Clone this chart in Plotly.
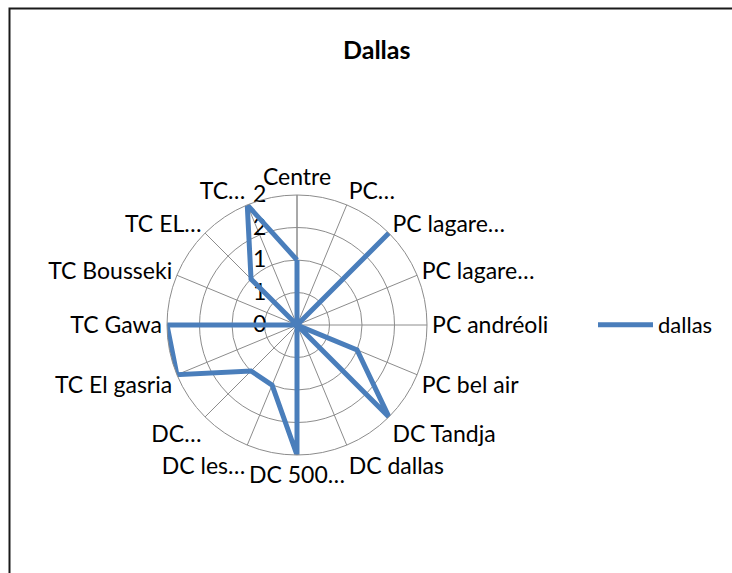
import plotly.graph_objects as go

# Site categories around the radar, clockwise from the top
categories = [
    "Centre", "PC…", "PC lagare…", "PC lagare…", "PC andréoli", "PC bel air",
    "DC Tandja", "DC dallas", "DC 500…", "DC les…", "DC…", "TC El gasria",
    "TC Gawa", "TC Bousseki", "TC EL…", "TC…",
]
dallas = [1, 0, 2, 0, 0, 1, 2, 0, 2, 1, 1, 2, 2, 0, 1, 2]

radial_ticks = [0, 0.5, 1, 1.5, 2]
radial_labels = ["0", "1", "1", "2", "2"]

W, H = 732, 573
n = len(categories)
theta = [i * 360 / n for i in range(n)]

# closed polygon for the series
r_closed = dallas + dallas[:1]
t_closed = theta + theta[:1]

FONT = "Lato"
GRID = "#8c8c8c"
BLUE = "#4a7ebb"
FS = 23

cx, cy, rad = 297, 325, 130

fig = go.Figure()
fig.add_trace(go.Scatterpolar(
    r=r_closed, theta=t_closed, mode="lines", name="dallas",
    line=dict(color=BLUE, width=5),
))

fig.update_layout(
    width=W, height=H,
    margin=dict(l=0, r=0, t=0, b=0),
    paper_bgcolor="white",
    plot_bgcolor="white",
    font=dict(family=FONT, size=FS, color="black"),
    showlegend=True,
    legend=dict(
        x=593 / W, y=1 - 325 / H, xanchor="left", yanchor="middle",
        font=dict(family=FONT, size=FS - 1, color="black"),
        bgcolor="rgba(0,0,0,0)", itemwidth=55,
    ),
    polar=dict(
        domain=dict(x=[(cx - rad) / W, (cx + rad) / W],
                    y=[1 - (cy + rad) / H, 1 - (cy - rad) / H]),
        bgcolor="white",
        gridshape="linear",
        angularaxis=dict(
            direction="clockwise", rotation=90,
            tickmode="array", tickvals=theta, ticktext=categories,
            showline=True, linecolor=GRID, linewidth=1,
            showgrid=True, gridcolor=GRID, gridwidth=1,
            ticks="", tickfont=dict(family=FONT, size=FS, color="black"),
        ),
        radialaxis=dict(
            range=[0, 2], angle=90, tickangle=90,
            tickmode="array", tickvals=radial_ticks, ticktext=radial_labels,
            showline=True, linecolor=GRID, linewidth=1,
            showgrid=True, gridcolor=GRID, gridwidth=1,
            ticks="outside", ticklen=22, tickcolor="rgba(0,0,0,0)",
            side="counterclockwise",
            tickfont=dict(family=FONT, size=FS, color="black"),
            layer="below traces",
        ),
    ),
    annotations=[dict(
        text="<b>Dallas</b>", x=377 / W, y=1 - 49 / H,
        xref="paper", yref="paper", showarrow=False,
        xanchor="center", yanchor="middle",
        font=dict(family=FONT, size=25, color="black"),
    )],
    shapes=[dict(
        type="rect", xref="paper", yref="paper",
        x0=9.5 / W, x1=760 / W, y0=1 - 600 / H, y1=1 - 8.5 / H,
        line=dict(color="#1a1a1a", width=2),
    )],
)

fig.write_html("out.html")
